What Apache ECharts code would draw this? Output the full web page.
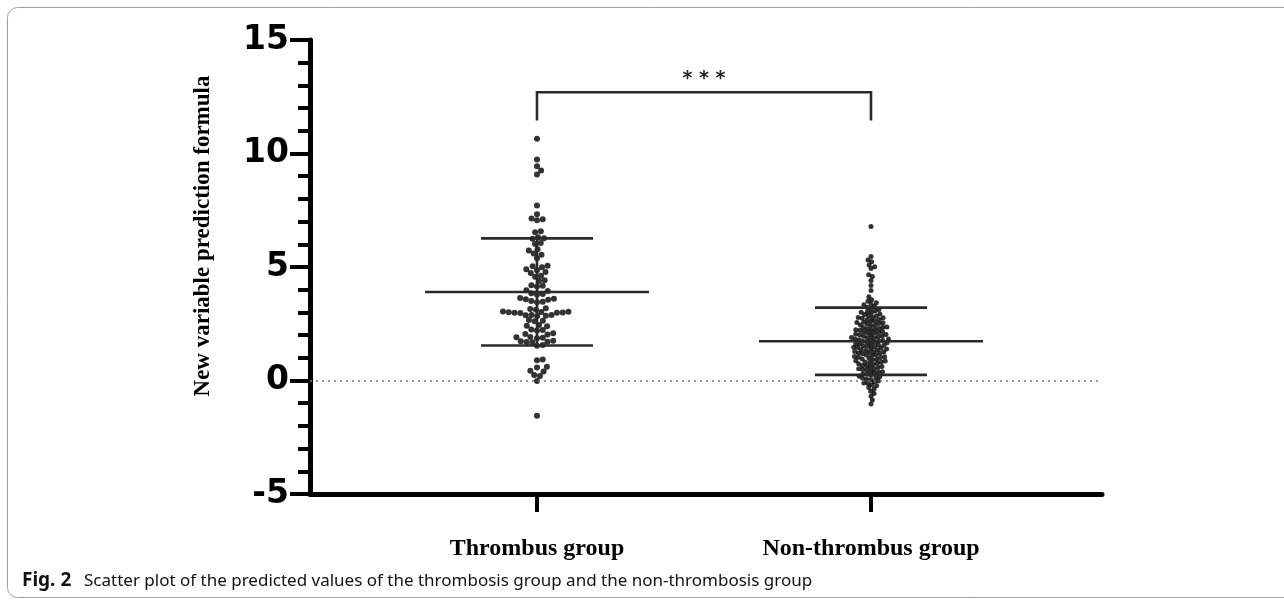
<!DOCTYPE html>
<html>
<head>
<meta charset="utf-8">
<title>Scatter plot of predicted values</title>
<script src="https://cdn.jsdelivr.net/npm/echarts@6/dist/echarts.min.js"></script>
<style>
  html, body { margin: 0; padding: 0; background: #fff; }
  #chart { width: 1284px; height: 603px; }
</style>
</head>
<body>
<div id="chart"></div>
<script>
// groups on the x axis
const groups = ['Thrombus group', 'Non-thrombus group'];

// predicted values
const thrombus = [
  10.65,
  9.74, 9.44, 9.25, 9.07,
  7.71, 7.32, 7.14, 7.06, 7.1,
  6.58, 6.53, 6.31, 6.27, 6.24, 6.06, 6.01,
  5.78, 5.73, 5.59, 5.54, 5.38, 5.06, 5.03, 4.99,
  4.9, 4.86, 4.78, 4.74, 4.62, 4.57, 4.42, 4.38, 4.2, 4.17, 4.14,
  3.98, 3.94, 3.84, 3.81, 3.79, 3.63, 3.6, 3.58, 3.56, 3.5, 3.47, 3.45,
  3.18, 3.15, 3.12, 3.04, 3.02, 3.01, 2.99, 2.98, 3.03, 3.0, 2.97,
  2.89, 2.87, 2.85, 2.84, 2.88, 2.66, 2.63, 2.61, 2.44, 2.41, 2.39,
  2.25, 2.22, 2.2, 2.08, 2.05, 2.03, 1.92, 1.9, 1.88, 1.86,
  1.75, 1.73, 1.71, 1.7, 1.68, 1.56, 1.53,
  0.93, 0.89, 0.61, 0.57, 0.43, 0.4, 0.24, 0.2, -0.02,
  -1.55
];

const nonThrombus = [
  6.78,
  5.46, 5.31, 5.23, 5.09, 5.01, 4.93,
  4.66, 4.58, 4.41, 4.19, 3.97, 3.69, 3.56, 3.49,
  3.43, 3.37, 3.34, 3.27,
  3.23, 3.17, 3.13, 3.06, 3.04, 3.01,
  2.98, 2.93, 2.91, 2.85, 2.84, 2.79, 2.77, 2.76,
  2.74, 2.69, 2.68, 2.63, 2.62, 2.57, 2.55, 2.54, 2.51,
  2.49, 2.45, 2.44, 2.41, 2.36, 2.35, 2.33, 2.29, 2.28, 2.26,
  2.24, 2.21, 2.2, 2.16, 2.15, 2.11, 2.09, 2.08, 2.04, 2.03, 2.01,
  1.99, 1.96, 1.95, 1.93, 1.89, 1.88, 1.87, 1.83, 1.82, 1.79, 1.78, 1.76,
  1.74, 1.73, 1.69, 1.68, 1.66, 1.62, 1.61, 1.6, 1.56, 1.55, 1.52, 1.51,
  1.49, 1.46, 1.45, 1.42, 1.41, 1.39, 1.35, 1.34, 1.32, 1.28, 1.27, 1.26,
  1.24, 1.21, 1.2, 1.18, 1.13, 1.12, 1.1, 1.06, 1.05, 1.02, 1.01,
  0.98, 0.95, 0.94, 0.91, 0.87, 0.86, 0.82, 0.81, 0.79, 0.76,
  0.74, 0.71, 0.66, 0.65, 0.62, 0.59, 0.57, 0.52, 0.51,
  0.48, 0.46, 0.41, 0.38, 0.37, 0.33, 0.29, 0.27,
  0.23, 0.19, 0.17, 0.12, 0.1, 0.05, 0.03,
  -0.02, -0.05, -0.11, -0.13, -0.19, -0.23,
  -0.31, -0.37, -0.47,
  -0.57, -0.69,
  -0.86, -1.03
];

// mean and SD bars
const means = [3.9, 1.73];
const sds = [2.36, 1.48];

// y axis
const yMin = -5, yMax = 15, yStep = 5;

// significance bracket between the two groups
const sigText = '* * *';
const sigTop = 12.7;
const sigFoot = 11.45;

const chart = echarts.init(document.getElementById('chart'));

const serif = '"Liberation Serif", "Times New Roman", serif';

chart.setOption({
  backgroundColor: '#fff',
  animation: false,
  grid: { left: 310, right: 182, top: 40, bottom: 109 },
  xAxis: {
    type: 'value',
    min: 0.3204,
    max: 2.6916,
    axisLine: { onZero: false, lineStyle: { color: '#000', width: 5 } },
    axisTick: { customValues: [1, 2], length: 18, lineStyle: { color: '#000', width: 4 } },
    axisLabel: {
      customValues: [1, 2],
      formatter: v => groups[Math.round(v) - 1],
      margin: 43,
      color: '#000',
      fontFamily: serif,
      fontWeight: 'bold',
      fontSize: 24
    },
    splitLine: { show: false }
  },
  yAxis: {
    type: 'value',
    min: yMin,
    max: yMax,
    interval: yStep,
    name: 'New variable prediction formula',
    nameLocation: 'middle',
    nameGap: 95,
    nameTextStyle: {
      color: '#000',
      fontFamily: serif,
      fontWeight: 'bold',
      fontSize: 23,
      padding: [0, 0, 0, 62]
    },
    axisLine: { show: true, onZero: false, lineStyle: { color: '#000', width: 5 } },
    axisTick: { show: true, length: 20, lineStyle: { color: '#000', width: 4 } },
    minorTick: { show: true, splitNumber: 5, length: 12, lineStyle: { color: '#000', width: 4 } },
    axisLabel: {
      margin: 21,
      color: '#000',
      fontFamily: '"DejaVu Sans", sans-serif',
      fontWeight: 'bold',
      fontSize: 33
    },
    splitLine: { show: false }
  },
  series: [{ type: 'scatter', data: [] }]
});

// beeswarm offsets (in px) so the dots sit side by side
function swarm(vals, d, pyPerUnit) {
  const order = vals.map((v, i) => i).sort((a, b) => vals[a] - vals[b]);
  const placed = [];
  const out = new Array(vals.length);
  order.forEach(i => {
    const y = vals[i] * pyPerUnit;
    const near = placed.filter(p => Math.abs(p.y - y) < d);
    const cands = [0];
    near.forEach(p => {
      const dx = Math.sqrt(d * d - (p.y - y) * (p.y - y));
      cands.push(p.x + dx, p.x - dx);
    });
    cands.sort((a, b) => Math.abs(a) - Math.abs(b));
    let x = 0;
    for (const c of cands) {
      if (near.every(p => (p.x - c) * (p.x - c) + (p.y - y) * (p.y - y) >= d * d - 1e-6)) { x = c; break; }
    }
    placed.push({ x, y });
    out[i] = x;
  });
  return out;
}

const pyPerUnit = chart.convertToPixel({ yAxisIndex: 0 }, 0) - chart.convertToPixel({ yAxisIndex: 0 }, 1);
const pxPerUnit = chart.convertToPixel({ xAxisIndex: 0 }, 2) - chart.convertToPixel({ xAxisIndex: 0 }, 1);

function swarmData(vals, gi, d) {
  const off = swarm(vals, d, pyPerUnit);
  return vals.map((v, k) => [gi + 1 + off[k] / pxPerUnit, v]);
}

chart.setOption({
  series: [
    {
      type: 'scatter',
      name: groups[0],
      data: swarmData(thrombus, 0, 5.8),
      symbolSize: 6,
      itemStyle: { color: '#000' },
      z: 3,
      markLine: {
        silent: true,
        symbol: ['none', 'none'],
        label: { show: false },
        lineStyle: { type: [2, 4], color: '#777', width: 1.6 },
        data: [{ yAxis: 0 }]
      }
    },
    {
      type: 'scatter',
      name: groups[1],
      data: swarmData(nonThrombus, 1, 4.1),
      symbolSize: 5,
      itemStyle: { color: '#000' },
      z: 3
    },
    {
      type: 'custom',
      name: 'mean ± SD',
      data: means.map((m, i) => [i + 1, m, sds[i]]),
      encode: { x: 0, y: 1 },
      z: 4,
      renderItem: (params, api) => {
        const gx = api.value(0), m = api.value(1), s = api.value(2);
        const c = api.coord([gx, m]);
        const hi = api.coord([gx, m + s]);
        const lo = api.coord([gx, m - s]);
        const st = { stroke: '#2a2a2a', lineWidth: 2.6 };
        return {
          type: 'group',
          children: [
            { type: 'line', shape: { x1: c[0] - 112, y1: c[1], x2: c[0] + 112, y2: c[1] }, style: st },
            { type: 'line', shape: { x1: hi[0] - 56, y1: hi[1], x2: hi[0] + 56, y2: hi[1] }, style: st },
            { type: 'line', shape: { x1: lo[0] - 56, y1: lo[1], x2: lo[0] + 56, y2: lo[1] }, style: st },
            { type: 'line', shape: { x1: c[0], y1: hi[1], x2: c[0], y2: lo[1] }, style: st }
          ]
        };
      }
    },
    {
      type: 'custom',
      name: 'significance',
      data: [[1, 2, sigTop, sigFoot]],
      encode: { x: 0, y: 2 },
      z: 4,
      renderItem: (params, api) => {
        const a0 = api.coord([api.value(0), api.value(3)]);
        const a1 = api.coord([api.value(0), api.value(2)]);
        const b1 = api.coord([api.value(1), api.value(2)]);
        const b0 = api.coord([api.value(1), api.value(3)]);
        return {
          type: 'group',
          children: [
            {
              type: 'polyline',
              shape: { points: [a0, a1, b1, b0] },
              style: { stroke: '#2a2a2a', lineWidth: 2.6, fill: null }
            },
            {
              type: 'text',
              x: (a1[0] + b1[0]) / 2,
              y: a1[1] - 13,
              style: {
                text: sigText,
                fill: '#222',
                font: 'bold 19px "DejaVu Sans", sans-serif',
                align: 'center',
                verticalAlign: 'middle'
              }
            }
          ]
        };
      }
    }
  ],
  graphic: [
    {
      type: 'rect',
      shape: { x: 7.5, y: 7.5, width: 1320, height: 590, r: 10 },
      style: { fill: null, stroke: '#a0a0a0', lineWidth: 1 },
      silent: true
    },
    {
      type: 'text',
      x: 22,
      y: 581,
      style: {
        text: 'Fig. 2',
        fill: '#111',
        font: 'bold 19px "Noto Sans", sans-serif',
        verticalAlign: 'middle'
      }
    },
    {
      type: 'text',
      x: 84,
      y: 581,
      style: {
        text: 'Scatter plot of the predicted values of the thrombosis group and the non-thrombosis group',
        fill: '#111',
        font: '17px "Noto Sans", sans-serif',
        verticalAlign: 'middle'
      }
    }
  ]
});
</script>
</body>
</html>
